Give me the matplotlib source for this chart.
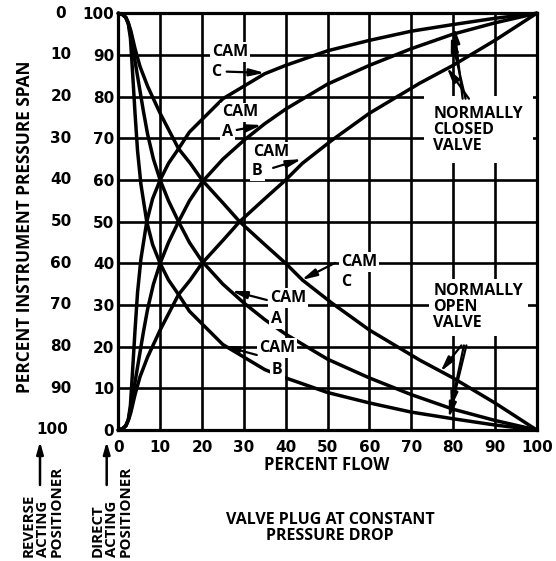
import matplotlib
matplotlib.use('Agg')
import matplotlib.pyplot as plt
from matplotlib.transforms import blended_transform_factory

# ---------------- data ----------------
x_ticks = [0, 10, 20, 30, 40, 50, 60, 70, 80, 90, 100]
x_tick_labels = ['0', '10', '20', '30', '40', '50', '60', '70', '80', '90', '100']
y_ticks = [0, 10, 20, 30, 40, 50, 60, 70, 80, 90, 100]
inner_y_labels = ['0', '10', '20', '30', '40', '50', '60', '70', '80', '90', '100']
outer_y_labels = ['100', '90', '80', '70', '60', '50', '40', '30', '20', '10', '0']

# Normally closed valve (flow rises with pressure)
rise_c_x = [0, 1, 1.8, 2.4, 2.9, 3.4, 4.0, 4.6, 5.4, 6.8, 8.2, 10, 12, 14.4, 17, 20, 25, 30, 35, 40, 50, 60, 70, 80, 90, 100]
rise_c_y = [0, 0.3, 1, 2.5, 6, 14, 24, 33, 41, 50, 55.5, 60, 64, 67.5, 71.5, 74.5, 79.5, 82.5, 85.5, 87.5, 91, 93.5, 95.7, 97.3, 98.8, 100]
rise_a_x = [0, 1, 1.8, 2.4, 3, 4, 5, 6, 7, 8.4, 10, 12, 14.4, 17, 20, 25, 30, 35, 40, 50, 60, 70, 80, 90, 100]
rise_a_y = [0, 0.3, 1, 2.5, 5.5, 11.5, 17.5, 23.5, 29, 35, 40, 45, 50, 55, 59.5, 65, 69.5, 73.5, 77, 83, 87.5, 91.5, 95, 97.7, 100]
rise_b_x = [0, 1, 1.8, 2.4, 3, 4, 5.2, 7, 10, 14.4, 17.2, 20, 25, 29, 35, 40, 44, 51, 60, 65, 72, 80, 90, 100]
rise_b_y = [0, 0.3, 1, 2.3, 4.2, 8.5, 12.8, 17.5, 24, 32.5, 36, 40, 45.5, 50, 55.5, 60, 64, 69.5, 76, 79, 83.2, 87.5, 93.5, 100]

# Normally open valve (flow falls with pressure)
fall_c_x = [0, 1, 1.8, 2.4, 3, 4, 5.2, 7, 10, 14.4, 17.2, 20, 25, 29, 35, 40, 44, 51, 60, 65, 72, 80, 90, 100]
fall_c_y = [100, 99.7, 99, 97.7, 95.8, 91.5, 87.2, 82.5, 76, 67.5, 64, 60, 54.5, 50, 44.5, 40, 36, 30.5, 24, 21, 16.8, 12.5, 6.5, 0]
fall_a_x = [0, 1, 1.8, 2.4, 3, 4, 5, 6, 7, 8.4, 10, 12, 14.4, 17, 20, 25, 30, 35, 40, 50, 60, 70, 80, 90, 100]
fall_a_y = [100, 99.7, 99, 97.5, 94.5, 88.5, 82.5, 76.5, 71, 65, 60, 55, 50, 45, 40.5, 35, 30.5, 26.5, 23, 17, 12.5, 8.5, 5, 2.3, 0]
fall_b_x = [0, 1, 1.8, 2.4, 2.9, 3.4, 4.0, 4.6, 5.4, 6.8, 8.2, 10, 12, 14.4, 17, 20, 25, 30, 35, 40, 50, 60, 70, 80, 90, 100]
fall_b_y = [100, 99.7, 99, 97.5, 94, 86, 76, 67, 59, 50, 44.5, 40, 36, 32.5, 28.5, 25.5, 20.5, 17.5, 14.5, 12.5, 9, 6.5, 4.3, 2.7, 1.2, 0]

# ---------------- layout ----------------
W, H = 556, 561
fig = plt.figure(figsize=(W / 100, H / 100), dpi=100)
AX_L, AX_R, AX_T, AX_B = 118.3, 536.7, 13.3, 430.0
ax = fig.add_axes([AX_L / W, 1 - AX_B / H, (AX_R - AX_L) / W, (AX_B - AX_T) / H])


def fp(x, y):
    return (x / W, 1 - y / H)


TXT = 'Open Sans'
NUM = 'DejaVu Sans'
NUMSIZE = 11

ax.set_xlim(0, 100)
ax.set_ylim(0, 100)
ax.set_xticks(x_ticks)
ax.set_xticklabels(x_tick_labels, fontfamily=NUM, fontweight='bold', fontsize=NUMSIZE)
ax.set_yticks(y_ticks)
ax.set_yticklabels(inner_y_labels, fontfamily=NUM, fontweight='bold', fontsize=NUMSIZE)
ax.tick_params(axis='x', length=0, pad=7)
ax.tick_params(axis='y', length=0, pad=3)
ax.grid(True, color='black', lw=1.9)
ax.set_axisbelow(True)
for s in ax.spines.values():
    s.set_linewidth(2.3)

lw = 2.5
for xs, ys in [(rise_c_x, rise_c_y), (rise_a_x, rise_a_y), (rise_b_x, rise_b_y),
               (fall_c_x, fall_c_y), (fall_a_x, fall_a_y), (fall_b_x, fall_b_y)]:
    ax.plot(xs, ys, color='black', lw=lw, solid_capstyle='round', zorder=3, clip_on=False)

# outer (reverse acting) scale
trans = blended_transform_factory(fig.transFigure, ax.transData)
for yv, lab in zip(y_ticks, outer_y_labels):
    xc = 52 if lab == '100' else 61
    ax.text(xc / W, yv, lab, transform=trans, ha='center', va='center',
            fontfamily=NUM, fontweight='bold', fontsize=NUMSIZE)

# ---------------- annotations ----------------
FS = 11.5
tkw = dict(fontfamily=TXT, fontweight='bold', fontsize=FS, zorder=4,
           bbox=dict(boxstyle='square,pad=0.12', fc='white', ec='none'))
akw = dict(arrowstyle='-|>,head_length=0.9,head_width=0.22', color='black', lw=1.6,
           shrinkA=0, shrinkB=0)

labels = [
    ('CAM', 26.7, 90.8), ('C', 23.3, 86.0),
    ('CAM', 29.2, 76.2), ('A', 26.0, 71.4),
    ('CAM', 36.6, 66.7), ('B', 33.2, 62.2),
    ('CAM', 57.6, 40.4), ('C', 54.5, 35.4),
    ('CAM', 40.6, 31.6), ('A', 37.9, 26.7),
    ('CAM', 38.0, 19.6), ('B', 38.0, 14.4),
]
for t, x, y in labels:
    ax.text(x, y, t, ha='center', va='center', **tkw)

arrows = [
    ((25.9, 86.0), (35.0, 85.7)),
    ((28.3, 72.0), (34.3, 73.2)),
    ((37.0, 62.9), (43.8, 65.0)),
    ((51.8, 40.1), (43.8, 36.0)),
    ((35.5, 31.2), (27.1, 33.4)),
    ((33.1, 18.0), (25.1, 20.2)),
]
for (x0, y0), (x1, y1) in arrows:
    ax.annotate('', xy=(x1, y1), xytext=(x0, y0), arrowprops=akw, zorder=5)

ax.text(75.3, 77.8, 'NORMALLY\nCLOSED\nVALVE', ha='left', va='top', linespacing=1.0,
        fontfamily=TXT, fontweight='bold', fontsize=FS, zorder=4,
        bbox=dict(boxstyle='square,pad=0.6', fc='white', ec='none'))
ax.text(75.3, 35.2, 'NORMALLY\nOPEN\nVALVE', ha='left', va='top', linespacing=1.0,
        fontfamily=TXT, fontweight='bold', fontsize=FS, zorder=4,
        bbox=dict(boxstyle='square,pad=0.3', fc='white', ec='none'))

nc_arrows = [((82.3, 79.5), (80.3, 96.6)), ((83.0, 79.5), (79.5, 94.5)), ((83.8, 79.5), (78.5, 87.0))]
for (x0, y0), (x1, y1) in nc_arrows:
    ax.annotate('', xy=(x1, y1), xytext=(x0, y0), arrowprops=akw, zorder=5)
no_arrows = [((82.0, 20.3), (77.0, 14.0)), ((82.6, 20.3), (79.5, 5.3)), ((83.2, 20.3), (79.0, 2.9))]
for (x0, y0), (x1, y1) in no_arrows:
    ax.annotate('', xy=(x1, y1), xytext=(x0, y0), arrowprops=akw, zorder=5)

# ---------------- axis titles ----------------
fig.text(*fp(25, 393), 'PERCENT INSTRUMENT PRESSURE SPAN', rotation=90, ha='center', va='bottom',
         fontfamily=TXT, fontweight='bold', fontsize=12.4)
fig.text(*fp(327, 465), 'PERCENT FLOW', ha='center', va='center',
         fontfamily=TXT, fontweight='bold', fontsize=12)
fig.text(*fp(330, 528), 'VALVE PLUG AT CONSTANT\nPRESSURE DROP', ha='center', va='center',
         multialignment='center', linespacing=1.05,
         fontfamily=TXT, fontweight='bold', fontsize=11.5)
fig.text(*fp(43, 557), 'REVERSE\nACTING\nPOSITIONER', rotation=90, ha='center', va='bottom',
         multialignment='left', linespacing=1.0,
         fontfamily=TXT, fontweight='bold', fontsize=10.8)
fig.text(*fp(112, 557), 'DIRECT\nACTING\nPOSITIONER', rotation=90, ha='center', va='bottom',
         multialignment='left', linespacing=1.0,
         fontfamily=TXT, fontweight='bold', fontsize=10.8)
for xa in (40, 106.7):
    ax.annotate('', xy=fp(xa, 441.7), xytext=fp(xa, 485), xycoords='figure fraction',
                textcoords='figure fraction', annotation_clip=False,
                arrowprops=dict(arrowstyle='-|>,head_length=0.7,head_width=0.2', color='black',
                                lw=1.8, shrinkA=0, shrinkB=0))

fig.savefig('out.png', dpi=100, facecolor='white')
